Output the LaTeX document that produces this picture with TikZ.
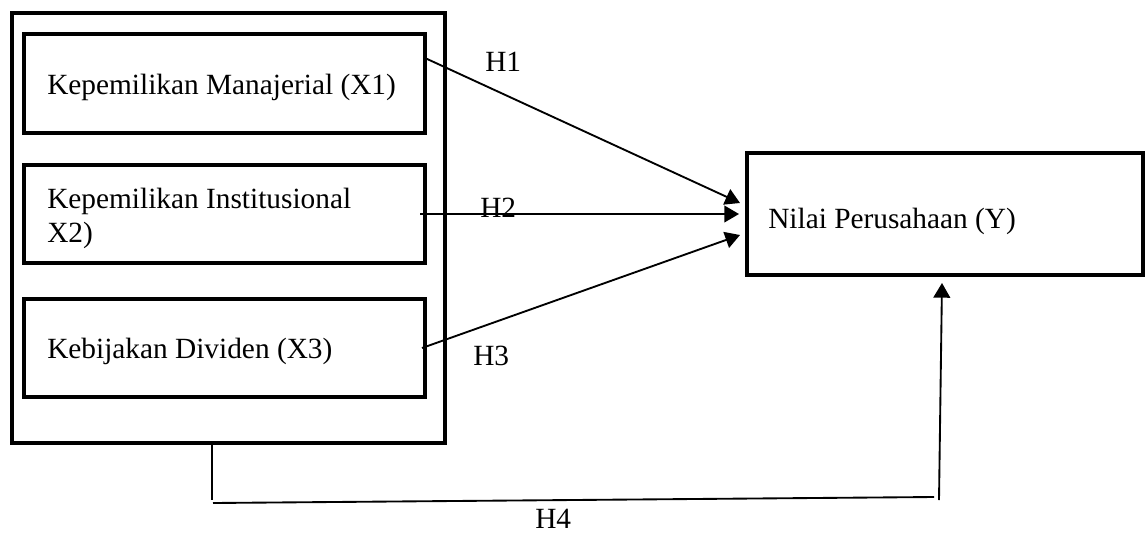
\documentclass[tikz,border=0pt]{standalone}
\usepackage{fontspec}
\setmainfont{Liberation Serif}
\usetikzlibrary{arrows.meta}
\begin{document}
\begin{tikzpicture}[x=0.75pt,y=-0.75pt,
  thickbox/.style={draw=black,line width=3pt},
  conn/.style={draw=black,line width=1.4pt},
  arr/.style={conn,-{Triangle[length=11pt,width=12.5pt]}},
  lbl/.style={font=\fontsize{22pt}{25.5pt}\selectfont,inner sep=0pt,anchor=base west},
  hlbl/.style={font=\fontsize{22pt}{25.5pt}\selectfont,inner sep=0pt,anchor=base west}]
\useasboundingbox (0,0) rectangle (1146,533);
\fill[white] (0,0) rectangle (1146,533);
% outer group box
\draw[thickbox] (12,13) rectangle (445,443);
\coordinate (outerbottom) at (212,444);
% inner boxes
\draw[thickbox] (24,34) rectangle (425,133);
\draw[thickbox] (24,165) rectangle (425,263);
\draw[thickbox] (24,299) rectangle (425,397);
\node[lbl] (x1) at (47,94) {Kepemilikan Manajerial (X1)};
\node[lbl,align=left] (x2) at (47,242) {Kepemilikan Institusional\\X2)};
\node[lbl] (x3) at (47,358) {Kebijakan Dividen (X3)};
% Y box
\draw[thickbox] (747,153) rectangle (1143,275);
\node[lbl] (y) at (768,228) {Nilai Perusahaan (Y)};
% connectors
\coordinate (s1) at (425,58);
\coordinate (t1) at (740,203);
\coordinate (s2) at (420,214);
\coordinate (t2) at (739,214);
\coordinate (s3) at (422,348);
\coordinate (t3) at (740,235);
\draw[arr] (s1) -- (t1);
\draw[arr] (s2) -- (t2);
\draw[arr] (s3) -- (t3);
\node[hlbl] (h1) at (485,71) {H1};
\node[hlbl] (h2) at (480,217) {H2};
\node[hlbl] (h3) at (473,365) {H3};
% H4 path
\coordinate (a) at (212,500);
\coordinate (b) at (213,503);
\coordinate (c) at (934,497);
\coordinate (d) at (939,500);
\coordinate (e) at (942,283);
\draw[conn] (outerbottom) -- (a);
\draw[conn] (b) -- (c);
\draw[arr] (d) -- (e);
\node[hlbl] (h4) at (535,528) {H4};
\end{tikzpicture}
\end{document}
